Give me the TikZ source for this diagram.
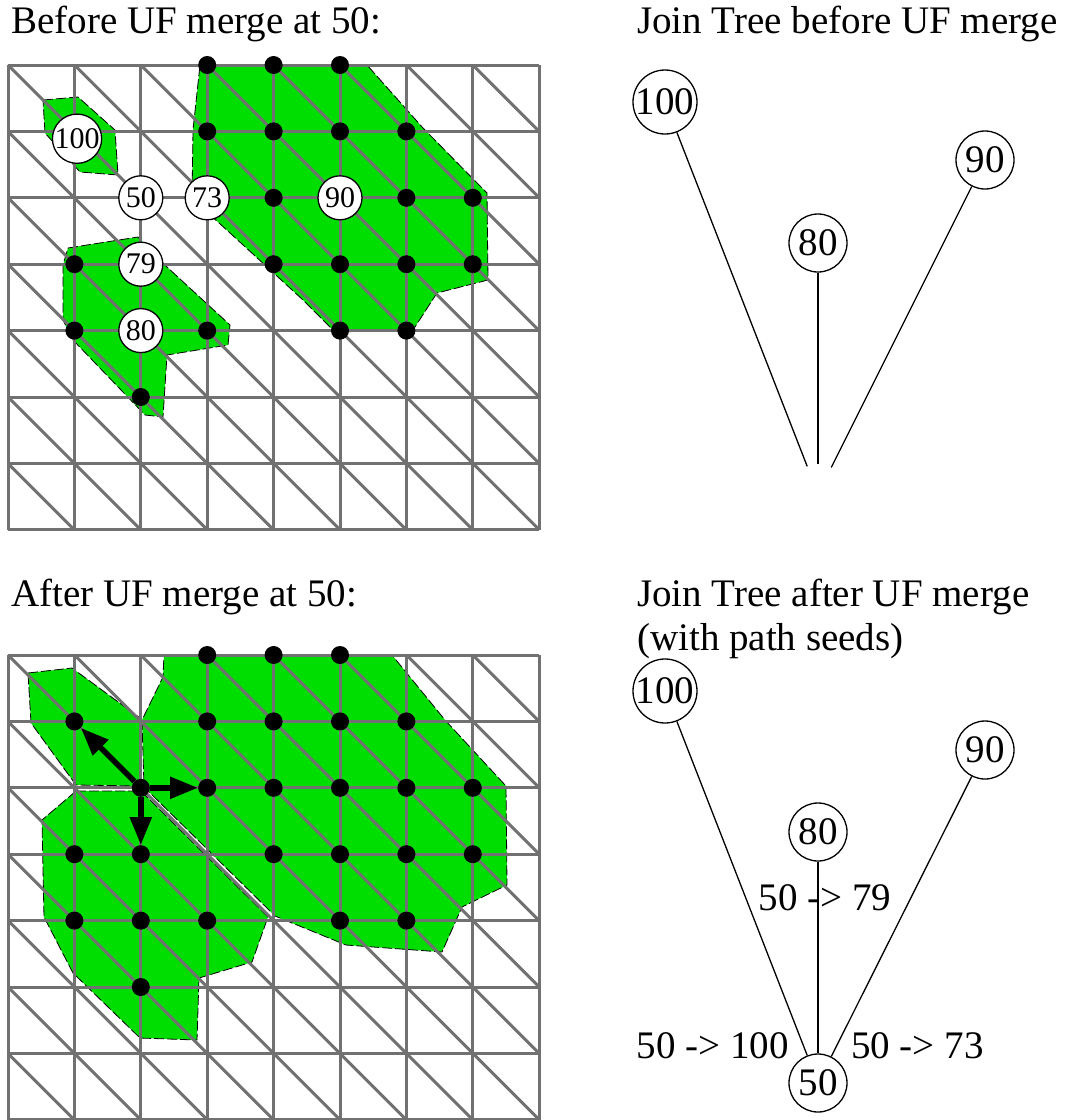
\documentclass[tikz,border=0pt]{standalone}
\usepackage{fontspec}
\setmainfont{Liberation Serif}
\usetikzlibrary{arrows.meta,positioning}
\definecolor{blob}{HTML}{00DD00}
\definecolor{mesh}{HTML}{717171}

\begin{document}
\begin{tikzpicture}[x=1pt,y=-1pt,
    title/.style={anchor=base west,inner sep=0pt,font=\fontsize{39}{46}\selectfont},
    meshline/.style={mesh,line width=3pt},
    region/.style={fill=blob,draw=black,line width=0.8pt,dash pattern=on 10pt off 3pt},
    vert/.style={circle,fill=black,minimum size=18pt,inner sep=0pt},
    crit/.style={circle,draw=black,fill=white,line width=1.3pt,minimum size=44pt,
                 inner sep=0pt,font=\fontsize{30}{31}\selectfont},
    jnode/.style={circle,draw=black,line width=1.3pt,minimum size=58pt,inner sep=0pt,
                  font=\fontsize{39}{40}\selectfont},
    jedge/.style={black,line width=1.3pt},
    seed/.style={-{Triangle[length=28pt,width=21pt]},black,line width=5.5pt},
    seedlbl/.style={inner sep=0pt,font=\fontsize{39}{40}\selectfont}]
  \useasboundingbox (0,0) rectangle (1072,1120);
  % superlevel regions before the merge
  \draw[region] (43,100) -- (78,97) -- (115,130) -- (118,175) -- (80,172) -- (45,133) -- cycle;
  \draw[region] (200,65) -- (367,65) -- (423,128) -- (487,193) -- (488,280) -- (437,293)
    -- (413,330) -- (335,332) -- (303,300) -- (218,222) -- (192,200) -- (193,130) -- cycle;
  \draw[region] (68,248) -- (138,237) -- (167,267) -- (230,325) -- (228,345) -- (167,355)
    -- (163,417) -- (145,415) -- (73,340) -- (63,320) -- (63,265) -- cycle;
  % after the merge
  \draw[region] (28,673) -- (72,668) -- (140,718) -- (141,786) -- (76,785) -- (31,723) -- cycle;
  \draw[region] (76,791) -- (141,791) -- (268,917) -- (252,962) -- (199,978) -- (197,1040)
    -- (140,1038) -- (73,973) -- (44,917) -- (42,820) -- cycle;
  \draw[region] (164,655) -- (392,655) -- (445,720) -- (506,786) -- (507,885) -- (462,907)
    -- (442,952) -- (346,945) -- (275,916) -- (144,787) -- (142,720) -- (163,677) -- cycle;
  % triangulated meshes
  \foreach \yo in {65,655}{
    \begin{scope}[shift={(8,\yo)},x=66.4pt,y=-66.4pt]
      \foreach \i in {0,...,8} \draw[meshline] (\i,0) -- (\i,7);
      \foreach \j in {0,...,7} \draw[meshline] (0,\j) -- (8,\j);
      \foreach \i in {0,...,7} \foreach \j in {0,...,6} \draw[meshline] (\i,\j) -- (\i+1,\j+1);
    \end{scope}}
  % vertices, top mesh
  \begin{scope}[shift={(8,65)},x=66.4pt,y=-66.4pt]
    \foreach \i/\j in {3/0,4/0,5/0,3/1,4/1,5/1,6/1,4/2,6/2,7/2,1/3,4/3,5/3,6/3,7/3,
                       1/4,3/4,5/4,6/4,2/5}
      \node[vert] (t\i\j) at (\i,\j) {};
    \node[crit] (c100) at (1.04,1.11) {100};
    \node[crit] (c50) at (2,2) {50};
    \node[crit] (c73) at (3,2) {73};
    \node[crit] (c90) at (5,2) {90};
    \node[crit] (c79) at (2,3) {79};
    \node[crit] (c80) at (2,4) {80};
  \end{scope}
  % vertices, bottom mesh
  \begin{scope}[shift={(8,655)},x=66.4pt,y=-66.4pt]
    \foreach \i/\j in {3/0,4/0,5/0,1/1,3/1,4/1,5/1,6/1,2/2,3/2,4/2,5/2,6/2,7/2,
                       1/3,2/3,4/3,5/3,6/3,7/3,1/4,2/4,3/4,5/4,6/4,2/5}
      \node[vert] (b\i\j) at (\i,\j) {};
    \draw[seed] (b22) -- (b11);
    \draw[seed] (b22) -- (b32);
    \draw[seed] (b22) -- (b23);
  \end{scope}
  % titles
  \node[title] (h1) at (11,33) {Before UF merge at 50:};
  \node[title] (h2) at (637,33) {Join Tree before UF merge};
  \node[title] (h3) at (11,606) {After UF merge at 50:};
  \node[title] (h4) at (637,606) {Join Tree after UF merge};
  \node[title] (h5) at (637,650) {(with path seeds)};
  % join tree before
  \node[jnode] (j100) at (665,102) {100};
  \node[jnode] (j90) at (985,160) {90};
  \node[jnode] (j80) at (818,243) {80};
  \node[jnode,draw=none] (j50) at (818,494) {};
  \foreach \n in {100,80,90} \draw[jedge] (j\n) -- (j50);
  % join tree after
  \node[jnode] (k100) at (665,691) {100};
  \node[jnode] (k90) at (985,750) {90};
  \node[jnode] (k80) at (818,832) {80};
  \node[jnode] (k50) at (818,1083) {50};
  \foreach \n in {100,80,90} \draw[jedge] (k\n) -- (k50);
  \node[seedlbl,anchor=base] (l79) at (825,910) {50 -> 79};
  \node[seedlbl,anchor=base east] (l100) at (789,1058) {50 -> 100};
  \node[seedlbl,anchor=base west] (l73) at (851,1058) {50 -> 73};
\end{tikzpicture}
\end{document}
